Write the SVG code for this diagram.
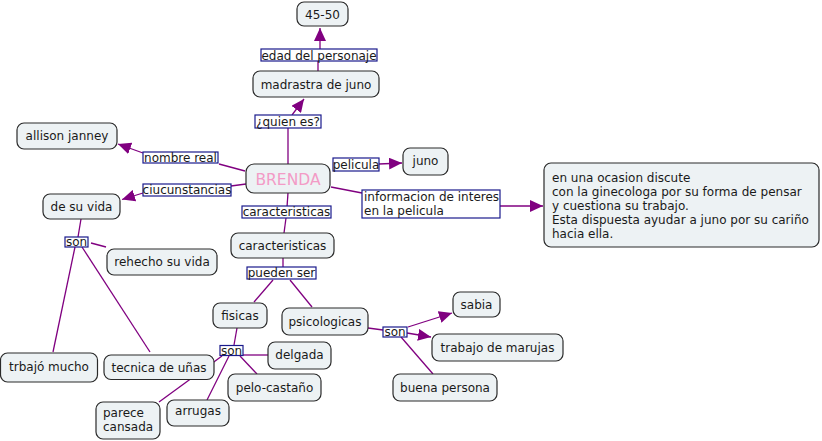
<svg xmlns="http://www.w3.org/2000/svg" width="822" height="441" viewBox="0 0 822 441">
<defs>
<marker id="ah" markerUnits="userSpaceOnUse" markerWidth="13" markerHeight="12" refX="13" refY="6" orient="auto">
<path d="M0,0 L13,6 L0,12 z" fill="#800080"/>
</marker>
<style>
.n{fill:#edf2f4;stroke:#2a2a2a;stroke-width:1.2}
.l{fill:#ffffff;stroke:#1a1a8c;stroke-width:1.2}
.t{font-family:"DejaVu Sans",Verdana,sans-serif;font-size:12px;fill:#1a1a1a}
.c{text-anchor:middle}
#connectors line{stroke:#800080;stroke-width:1.3}
.a{marker-end:url(#ah)}
</style>
</defs>
<rect width="822" height="441" fill="#ffffff"/>
<g id="connectors">
<line x1="318" y1="71" x2="318" y2="61"/>
<line class="a" x1="320" y1="49" x2="320" y2="28"/>
<line x1="288" y1="164" x2="288" y2="128"/>
<line class="a" x1="292" y1="115" x2="304" y2="99"/>
<line x1="245" y1="171" x2="219" y2="164"/>
<line class="a" x1="143" y1="153" x2="118" y2="144"/>
<line x1="246" y1="184" x2="231" y2="186"/>
<line class="a" x1="143" y1="193" x2="122" y2="199.5"/>
<line class="a" x1="379" y1="164" x2="402" y2="163"/>
<line x1="331" y1="187" x2="362" y2="193"/>
<line class="a" x1="500" y1="206" x2="543" y2="206"/>
<line x1="288" y1="193" x2="287" y2="207"/>
<line x1="286" y1="218" x2="284" y2="233"/>
<line x1="81" y1="219" x2="78" y2="237"/>
<line x1="91" y1="243" x2="106" y2="247"/>
<line x1="75" y1="247" x2="53" y2="352"/>
<line x1="82" y1="247" x2="150" y2="352"/>
<line x1="283" y1="258" x2="283" y2="267"/>
<line x1="273" y1="280" x2="254" y2="302"/>
<line x1="290" y1="280" x2="312" y2="307"/>
<line x1="237" y1="328" x2="234" y2="345"/>
<line x1="243" y1="355" x2="268" y2="355"/>
<line x1="240" y1="356" x2="257" y2="374"/>
<line x1="229" y1="356" x2="207" y2="400"/>
<line x1="222" y1="356" x2="159" y2="402"/>
<line x1="368" y1="328" x2="383" y2="330"/>
<line class="a" x1="408" y1="327" x2="452" y2="313"/>
<line class="a" x1="407" y1="333" x2="431" y2="337"/>
<line x1="401" y1="337" x2="433" y2="374"/>
</g>
<g id="labels">
<g id="lbl-edad"><rect class="l" x="261" y="49" width="116" height="12"/><text class="t c" x="319" y="59.5">edad del personaje</text></g>
<g id="lbl-quien"><rect class="l" x="255" y="115" width="66" height="13"/><text class="t c" x="288" y="125.5">¿quien es?</text></g>
<g id="lbl-nombre"><rect class="l" x="143" y="152" width="75" height="11"/><text class="t c" x="180.5" y="161.5">nombre real</text></g>
<g id="lbl-ciuc"><rect class="l" x="143" y="184" width="88" height="12"/><text class="t c" x="187" y="194">ciucunstancias</text></g>
<g id="lbl-pelicula"><rect class="l" x="333" y="158" width="46" height="13"/><text class="t c" x="356" y="168.5">pelicula</text></g>
<g id="lbl-info"><rect class="l" x="362" y="190" width="138" height="28"/><text class="t" x="364" y="200.5">informacion de interes</text><text class="t" x="364" y="215">en la pelicula</text></g>
<g id="lbl-caract"><rect class="l" x="242" y="206" width="89" height="12"/><text class="t c" x="286.5" y="216">caracteristicas</text></g>
<g id="lbl-son1"><rect class="l" x="65" y="237" width="23" height="10"/><text class="t c" x="76.5" y="246">son</text></g>
<g id="lbl-pueden"><rect class="l" x="247" y="267" width="69" height="12"/><text class="t c" x="281.5" y="277">pueden ser</text></g>
<g id="lbl-son2"><rect class="l" x="220" y="345.5" width="23" height="10"/><text class="t c" x="231.5" y="354.5">son</text></g>
<g id="lbl-son3"><rect class="l" x="383" y="327" width="24" height="10"/><text class="t c" x="395" y="336">son</text></g>
</g>
<g id="n-4550"><rect class="n" x="297" y="2" width="51" height="24" rx="7"/><text class="t c" x="322.5" y="18.5">45-50</text></g>
<g id="n-madrastra"><rect class="n" x="253" y="71" width="126" height="26" rx="7"/><text class="t c" x="316" y="88.5">madrastra de juno</text></g>
<g id="n-allison"><rect class="n" x="17" y="123" width="100" height="26" rx="7"/><text class="t c" x="67" y="140">allison janney</text></g>
<g id="n-brenda"><rect class="n" x="246" y="164" width="84" height="29" rx="8"/><text x="288" y="184.5" text-anchor="middle" font-family="DejaVu Sans, Verdana, sans-serif" font-size="15.5" fill="#f39bc6">BRENDA</text></g>
<g id="n-juno"><rect class="n" x="403" y="148" width="45" height="27" rx="7"/><text class="t c" x="425.5" y="165">juno</text></g>
<g id="n-info"><rect class="n" x="544" y="163" width="275" height="84" rx="7"/>
<text class="t" x="552" y="182">en una ocasion discute</text>
<text class="t" x="552" y="196">con la ginecologa por su forma de pensar</text>
<text class="t" x="552" y="209.5">y cuestiona su trabajo.</text>
<text class="t" x="552" y="223.5">Esta dispuesta ayudar a juno por su cariño</text>
<text class="t" x="552" y="238">hacia ella.</text></g>
<g id="n-desuvida"><rect class="n" x="43" y="194" width="77" height="25" rx="7"/><text class="t c" x="81.5" y="211">de su vida</text></g>
<g id="n-caract"><rect class="n" x="231" y="233" width="103" height="25" rx="7"/><text class="t c" x="282.5" y="250">caracteristicas</text></g>
<g id="n-rehecho"><rect class="n" x="107" y="249" width="110" height="26" rx="7"/><text class="t c" x="162" y="266">rehecho su vida</text></g>
<g id="n-fisicas"><rect class="n" x="213" y="303" width="54" height="25" rx="7"/><text class="t c" x="240" y="320">fisicas</text></g>
<g id="n-psico"><rect class="n" x="282" y="308" width="86" height="27" rx="7"/><text class="t c" x="325" y="325.5">psicologicas</text></g>
<g id="n-sabia"><rect class="n" x="453" y="292" width="47" height="25" rx="7"/><text class="t c" x="476.5" y="308.5">sabia</text></g>
<g id="n-trabajo"><rect class="n" x="432" y="334" width="131" height="27" rx="7"/><text class="t c" x="497.5" y="351.5">trabajo de marujas</text></g>
<g id="n-delgada"><rect class="n" x="268" y="342" width="63" height="27" rx="7"/><text class="t c" x="299.5" y="359">delgada</text></g>
<g id="n-trbajo"><rect class="n" x="0.5" y="353" width="97" height="29" rx="7"/><text class="t c" x="49" y="371">trbajó mucho</text></g>
<g id="n-tecnica"><rect class="n" x="104" y="355" width="110" height="24.5" rx="7"/><text class="t c" x="159" y="371.5">tecnica de uñas</text></g>
<g id="n-pelo"><rect class="n" x="228" y="374" width="93" height="27" rx="7"/><text class="t c" x="274.5" y="391.5">pelo-castaño</text></g>
<g id="n-buena"><rect class="n" x="393" y="374" width="104" height="27" rx="7"/><text class="t c" x="445" y="391.5">buena persona</text></g>
<g id="n-arrugas"><rect class="n" x="167" y="400" width="62" height="26" rx="7"/><text class="t c" x="198" y="414.5">arrugas</text></g>
<g id="n-parece"><rect class="n" x="96" y="402" width="64" height="37" rx="7"/><text class="t" x="103" y="417">parece</text><text class="t" x="103" y="431">cansada</text></g>
</svg>
